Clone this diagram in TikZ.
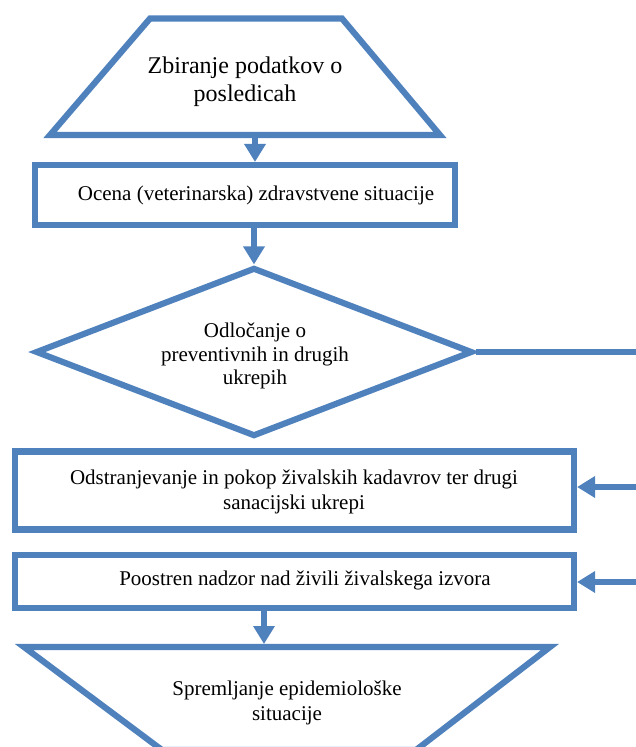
\documentclass[tikz,border=0pt]{standalone}
\usepackage{fontspec}
\setmainfont{Liberation Serif}
\usetikzlibrary{shapes.geometric,arrows.meta}
\definecolor{flowblue}{HTML}{4F81BD}
\tikzset{
  shapeline/.style={draw=flowblue,line width=4.6pt,line join=miter},
  boxnode/.style={shapeline,rectangle,inner sep=0pt},
  txt/.style={align=center,inner sep=0pt,font=\fontsize{15.75}{18.4}\selectfont},
  flowarrow/.style={draw=flowblue,line width=4.6pt,-{Triangle[length=13.5pt,width=15.5pt]}},
  flowline/.style={draw=flowblue,line width=4.2pt}
}
\begin{document}
\begin{tikzpicture}[x=0.75pt,y=-0.75pt]
\useasboundingbox (0,0) rectangle (636,747);

% top trapezoid
\draw[shapeline] (150,18.5) -- (342,18.5) -- (440,135) -- (50,135) -- cycle;
\coordinate (t1s) at (255,135);
\node[txt,font=\fontsize{18}{21}\selectfont] (t1txt) at (245,82) {Zbiranje podatkov o\\posledicah};

% box 1
\node[boxnode,minimum width=315pt,minimum height=45pt] (r1) at (245,195) {};
\node[txt] (r1txt) at (256,195) {Ocena (veterinarska) zdravstvene situacije};

% decision
\node[shapeline,diamond,inner sep=0pt,minimum width=327.75pt,minimum height=126.75pt] (d) at (254,352) {};
\node[txt,font=\fontsize{15.75}{17.6}\selectfont] (dtxt) at (255,356) {Odločanje o\\preventivnih in drugih\\ukrepih};
\coordinate (dout) at (640,352);

% box 2
\node[boxnode,minimum width=419.25pt,minimum height=58.5pt] (r2) at (294.5,490.5) {};
\node[txt,font=\fontsize{15.75}{18.75}\selectfont] (r2txt) at (294,492) {Odstranjevanje in pokop živalskih kadavrov ter drugi\\sanacijski ukrepi};
\coordinate (r2in) at (640,487);

% box 3
\node[boxnode,minimum width=419.25pt,minimum height=39.75pt] (r3) at (294.5,581.5) {};
\node[txt] (r3txt) at (305,580.5) {Poostren nadzor nad živili živalskega izvora};
\coordinate (r3in) at (640,582);

% bottom trapezoid
\draw[shapeline] (24,647) -- (550,647) -- (416,750) -- (162,750) -- cycle;
\coordinate (t2n) at (264,644);
\node[txt,font=\fontsize{15.75}{18.75}\selectfont] (t2txt) at (287,703) {Spremljanje epidemiološke\\situacije};

% connectors
\draw[flowarrow] (t1s) -- (t1s |- r1.north);
\draw[flowarrow] (r1.south -| d.north) -- (d.north);
\draw[flowline] (d.east) -- (dout);
\draw[flowarrow] (r2in) -- (r2in -| r2.east);
\draw[flowarrow] (r3in) -- (r3in -| r3.east);
\draw[flowarrow] (r3.south -| t2n) -- (t2n);
\end{tikzpicture}
\end{document}
